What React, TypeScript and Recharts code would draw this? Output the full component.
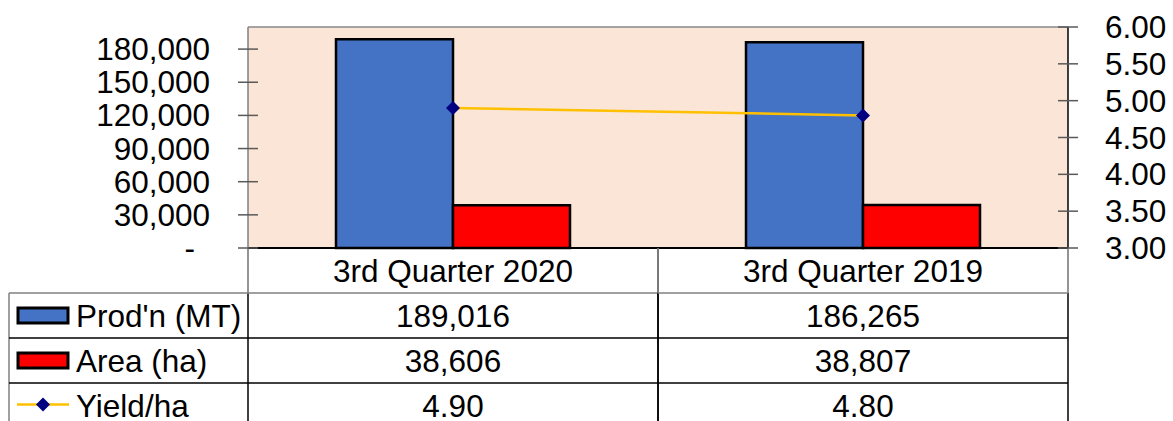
import { ComposedChart, Bar, Line, XAxis, YAxis, CartesianGrid, ReferenceLine } from 'recharts';

const categories = ['3rd Quarter 2020', '3rd Quarter 2019'];
const production = [189016, 186265];
const area = [38606, 38807];
const yieldPerHa = [4.9, 4.8];
const seriesNames = ["Prod'n (MT)", 'Area (ha)', 'Yield/ha'];
const leftTicks = [0, 30000, 60000, 90000, 120000, 150000, 180000];
const rightTicks = [3, 3.5, 4, 4.5, 5, 5.5, 6];

const data = categories.map((name, i) => ({
  name,
  prod: production[i],
  area: area[i],
  yld: yieldPerHa[i],
}));

// layout
const W = 1173;
const H = 421;
const TOP = 27;
const LEFT_W = 248;
const RIGHT_W = 105;
const XAXIS_H = 173;
const ROW_H = 45;
const PLOT_W = W - LEFT_W - RIGHT_W;
const AXIS_Y = H - XAXIS_H;

const FONT = "'Liberation Sans', Arial, sans-serif";
const FS = 31.5;
const BASE = 11; // baseline offset to center caps on a line

const fmt = (v: number) => v.toLocaleString('en-US');

function LeftTick(props: any) {
  const { x, y, payload } = props;
  const v = payload.value as number;
  return (
    <g>
      <line x1={x - 10} x2={x + 10} y1={y} y2={y} stroke="#595959" strokeWidth={1.5} />
      <text
        x={v === 0 ? x - 53 : x - 38}
        y={y + BASE}
        textAnchor="end"
        fontFamily={FONT}
        fontSize={FS}
        fill="#000"
      >
        {v === 0 ? '-' : fmt(v)}
      </text>
    </g>
  );
}

function RightTick(props: any) {
  const { x, y, payload } = props;
  return (
    <g>
      <line x1={x - 10} x2={x + 10} y1={y} y2={y} stroke="#595959" strokeWidth={1.5} />
      <text x={x + 37} y={y + BASE} textAnchor="start" fontFamily={FONT} fontSize={FS} fill="#000">
        {(payload.value as number).toFixed(2)}
      </text>
    </g>
  );
}

function TableColumn(props: any) {
  const { x, y, payload } = props;
  const i = categories.indexOf(payload.value);
  const half = PLOT_W / categories.length / 2;
  const cells = [fmt(production[i]), fmt(area[i]), yieldPerHa[i].toFixed(2)];
  return (
    <g>
      <text x={x} y={y + ROW_H / 2 + BASE} textAnchor="middle" fontFamily={FONT} fontSize={FS} fill="#000">
        {payload.value}
      </text>
      {cells.map((c, r) => (
        <text
          key={r}
          x={x}
          y={y + ROW_H * (r + 1) + ROW_H / 2 + BASE}
          textAnchor="middle"
          fontFamily={FONT}
          fontSize={FS}
          fill="#000"
        >
          {c}
        </text>
      ))}
      <line x1={x - half} x2={x - half} y1={y} y2={y + ROW_H} stroke="#707070" strokeWidth={1.5} />
      <line x1={x + half} x2={x + half} y1={y} y2={y + ROW_H} stroke="#707070" strokeWidth={1.5} />
      <line x1={x - half} x2={x - half} y1={y + ROW_H} y2={H} stroke="#000" strokeWidth={1.5} />
      <line x1={x + half} x2={x + half} y1={y + ROW_H} y2={H} stroke="#000" strokeWidth={1.5} />
      <line x1={x - half} x2={x + half} y1={y + ROW_H} y2={y + ROW_H} stroke="#808080" strokeWidth={1.5} />
      <line x1={x - half} x2={x + half} y1={y + ROW_H * 2} y2={y + ROW_H * 2} stroke="#000" strokeWidth={1.5} />
      <line x1={x - half} x2={x + half} y1={y + ROW_H * 3} y2={y + ROW_H * 3} stroke="#000" strokeWidth={1.5} />
    </g>
  );
}

function Diamond(props: any) {
  const { cx, cy } = props;
  if (cx == null || cy == null) return null;
  const r = 7;
  return (
    <polygon
      points={`${cx},${cy - r} ${cx + r},${cy} ${cx},${cy + r} ${cx - r},${cy}`}
      fill="#000080"
    />
  );
}

function LegendColumn() {
  const x0 = 9;
  const rowTop = (r: number) => AXIS_Y + ROW_H * (r + 1);
  return (
    <svg
      width={LEFT_W + 2}
      height={H}
      style={{ position: 'absolute', left: 0, top: 0, pointerEvents: 'none' }}
    >
      <line x1={x0} x2={x0} y1={rowTop(0)} y2={H} stroke="#808080" strokeWidth={1.5} />
      <line x1={x0} x2={LEFT_W} y1={rowTop(0)} y2={rowTop(0)} stroke="#808080" strokeWidth={1.5} />
      <line x1={x0} x2={LEFT_W} y1={rowTop(1)} y2={rowTop(1)} stroke="#000" strokeWidth={1.5} />
      <line x1={x0} x2={LEFT_W} y1={rowTop(2)} y2={rowTop(2)} stroke="#000" strokeWidth={1.5} />
      {seriesNames.map((name, r) => {
        const cy = rowTop(r) + ROW_H / 2;
        return (
          <g key={name}>
            {r < 2 ? (
              <rect
                x={18}
                y={cy - 7.5}
                width={50}
                height={15}
                fill={r === 0 ? '#4472C4' : '#FF0000'}
                stroke="#000"
                strokeWidth={3}
              />
            ) : (
              <g>
                <line x1={17} x2={69} y1={cy - 1} y2={cy - 1} stroke="#FFC000" strokeWidth={2.5} />
                <Diamond cx={43} cy={cy - 1} />
              </g>
            )}
            <text x={76} y={cy + BASE} fontFamily={FONT} fontSize={FS} fill="#000">
              {name}
            </text>
          </g>
        );
      })}
    </svg>
  );
}

export default function App() {
  return (
    <div style={{ position: 'absolute', left: 0, top: 0, width: W, height: H, background: '#fff', fontFamily: FONT }}>
      <ComposedChart
        width={W}
        height={H}
        data={data}
        margin={{ top: TOP, right: 0, bottom: 0, left: 0 }}
        barGap={0}
        barSize={117}
      >
        <CartesianGrid yAxisId="left" horizontal={false} vertical={false} fill="#FBE5D6" stroke="none" />
        <XAxis
          dataKey="name"
          height={XAXIS_H}
          interval={0}
          tickSize={0}
          tickMargin={0}
          tickLine={false}
          axisLine={{ stroke: '#000', strokeWidth: 2 }}
          tick={<TableColumn />}
        />
        <YAxis
          yAxisId="left"
          width={LEFT_W}
          domain={[0, 200000]}
          ticks={leftTicks}
          interval={0}
          tickSize={0}
          tickMargin={0}
          tickLine={false}
          axisLine={{ stroke: '#7f7f7f', strokeWidth: 1.5 }}
          tick={<LeftTick />}
        />
        <YAxis
          yAxisId="right"
          orientation="right"
          width={RIGHT_W}
          domain={[3, 6]}
          ticks={rightTicks}
          interval={0}
          tickSize={0}
          tickMargin={0}
          tickLine={false}
          axisLine={{ stroke: '#000', strokeWidth: 1.5 }}
          tick={<RightTick />}
        />
        <ReferenceLine yAxisId="left" y={200000} stroke="#898989" strokeWidth={1.5} />
        <Bar yAxisId="left" dataKey="prod" fill="#4472C4" stroke="#000" strokeWidth={2.5} isAnimationActive={false} />
        <Bar yAxisId="left" dataKey="area" fill="#FF0000" stroke="#000" strokeWidth={2.5} isAnimationActive={false} />
        <Line
          yAxisId="right"
          dataKey="yld"
          type="linear"
          stroke="#FFC000"
          strokeWidth={2.5}
          dot={<Diamond />}
          activeDot={false}
          isAnimationActive={false}
        />
      </ComposedChart>
      <LegendColumn />
    </div>
  );
}
